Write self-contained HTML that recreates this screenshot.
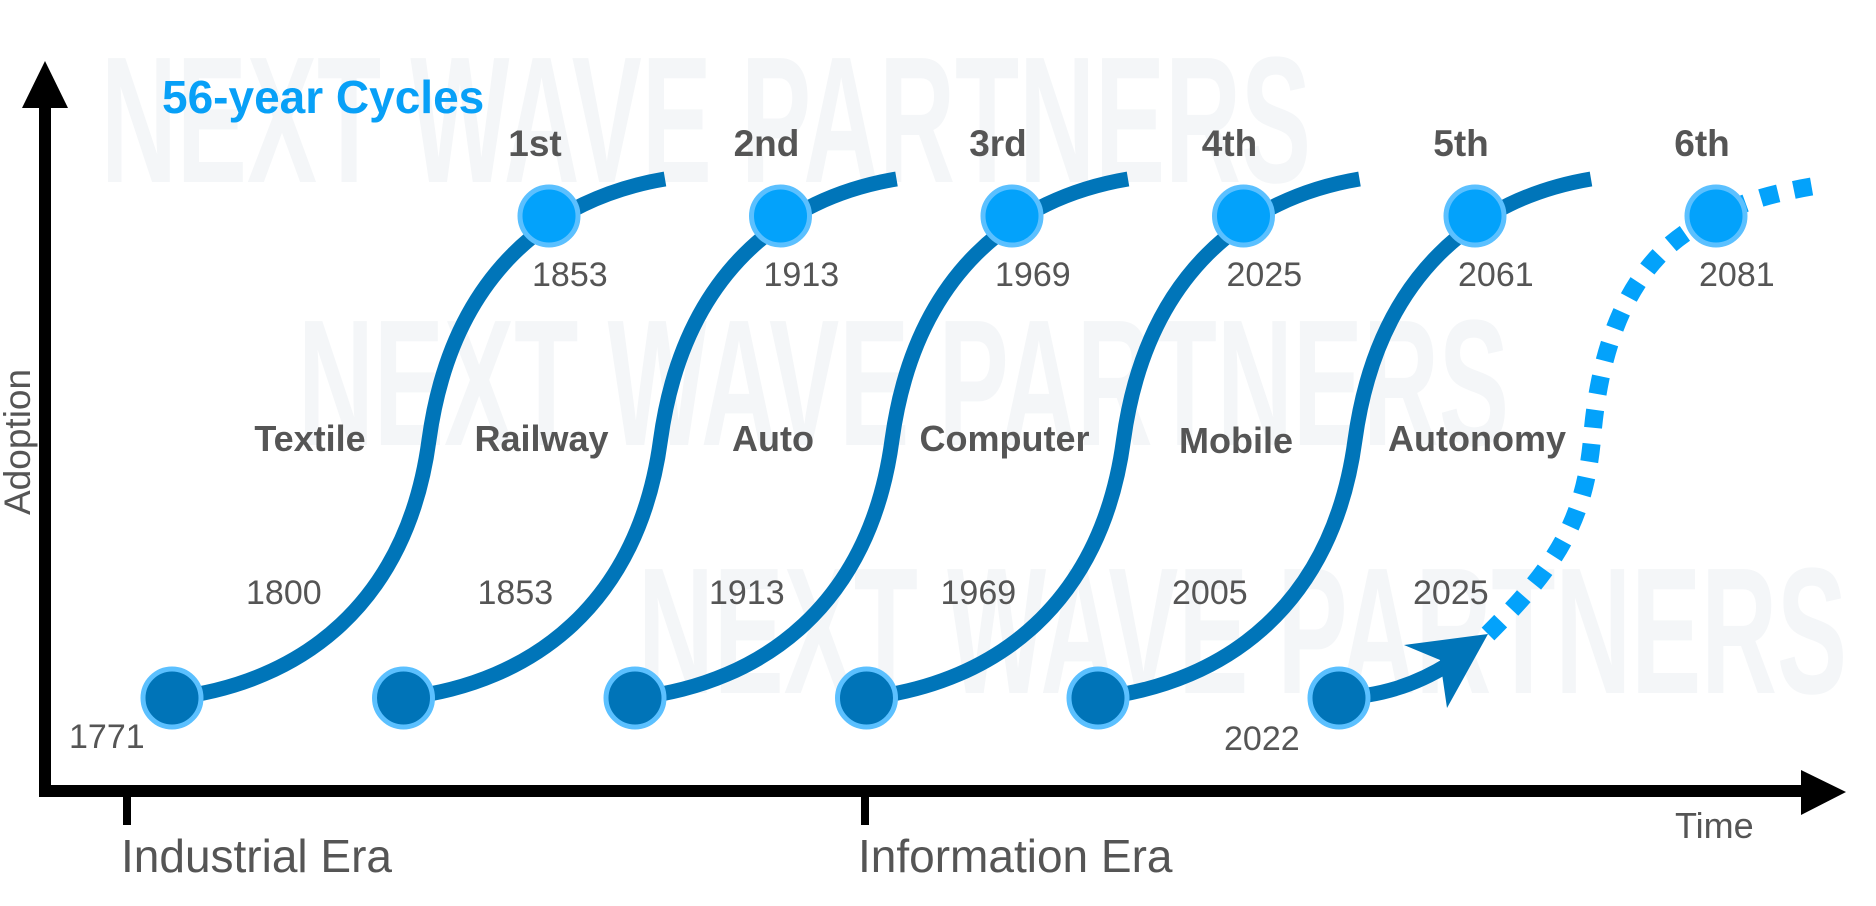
<!DOCTYPE html>
<html><head><meta charset="utf-8"><style>
html,body{margin:0;padding:0;background:#fff;}
svg{display:block;}
</style></head><body>
<svg id="chart" width="1876" height="906" viewBox="0 0 1876 906" xmlns="http://www.w3.org/2000/svg" font-family="'Liberation Sans', sans-serif">
  <g fill="#f4f6f8" font-family="'Liberation Sans Narrow','Liberation Sans',sans-serif" font-size="180" font-weight="bold">
    <text x="101" y="182" textLength="1210" lengthAdjust="spacingAndGlyphs">NEXT WAVE PARTNERS</text>
    <text x="298" y="445" textLength="1211" lengthAdjust="spacingAndGlyphs">NEXT WAVE PARTNERS</text>
    <text x="638" y="693" textLength="1209" lengthAdjust="spacingAndGlyphs">NEXT WAVE PARTNERS</text>
  </g>
  <g>
    <line x1="45" y1="797" x2="45" y2="100" stroke="#000" stroke-width="12"/>
    <polygon points="45,61 22,108 68,108" fill="#000"/>
    <line x1="39" y1="791" x2="1805" y2="791" stroke="#000" stroke-width="12"/>
    <polygon points="1846,792 1801,770 1801,815" fill="#000"/>
    <line x1="127" y1="791" x2="127" y2="825" stroke="#000" stroke-width="8"/>
    <line x1="865" y1="791" x2="865" y2="825" stroke="#000" stroke-width="8"/>
    <text x="1675" y="838" font-size="36" fill="#555">Time</text>
    <text transform="translate(30,515) rotate(-90)" font-size="37" fill="#555">Adoption</text>
    <text x="121" y="872" font-size="46" fill="#555">Industrial Era</text>
    <text x="858" y="872" font-size="46" fill="#555">Information Era</text>
  </g>
  <text x="162" y="113" font-size="46" font-weight="bold" fill="#08a0f7">56-year Cycles</text>
  <g id="curves"></g>
</svg>
<script>
const ordinals = ["1st","2nd","3rd","4th","5th","6th"];
const industries = ["Textile","Railway","Auto","Computer","Mobile","Autonomy"];
const startYears = ["1771","","","","","2022"];
const midYears = ["1800","1853","1913","1969","2005","2025"];
const peakYears = ["1853","1913","1969","2025","2061","2081"];
const projected = [false,false,false,false,false,true];

const NS = "http://www.w3.org/2000/svg";
const g = document.getElementById("curves");
// axis function: cycle index -> x start position
function xScale(i){ return i < 5 ? 172 + i*231.5 : 1339; }
const baseY = 698;
function mk(tag, attrs, parent){
  const e = document.createElementNS(NS, tag);
  for (const k in attrs) e.setAttribute(k, attrs[k]);
  (parent||g).appendChild(e);
  return e;
}
function txt(x,y,s,size,bold,anchor){
  const t = mk("text",{x:x,y:y,"font-size":size,fill:"#555","font-weight":bold?"bold":"normal","text-anchor":anchor||"start"});
  t.textContent = s;
  return t;
}
ordinals.forEach((o,i)=>{
  const sx = xScale(i), sy = baseY;
  const grp = mk("g",{transform:`translate(${sx},${sy})`});
  
  
  if (!projected[i]) {
    const p = mk("path",{d:"M0,0 C130,-15 235,-95 257,-258 C280,-425 380,-500 493,-519",fill:"none",stroke:"#0075b9","stroke-width":15},grp);
    
    
  } else {
    const d = mk("path",{d:"M149,-64 C210,-125 245,-170 253,-259 C262,-370 300,-450 378,-482 C410,-500 450,-508 488,-514",fill:"none",stroke:"#03a2fb","stroke-width":18,"stroke-dasharray":"18 16"},grp);
    
    
    const a = mk("path",{d:"M0,0 C40,-2 75,-12 110,-34",fill:"none",stroke:"#0075b9","stroke-width":15},grp);
    
    
    const h = mk("polygon",{points:"149,-64 65,-53 101,-38 108,10",fill:"#0075b9"},grp);
    
    
  }
  const c0 = mk("circle",{cx:0,cy:0,r:29,fill:"#0074b8",stroke:"#5bc0ff","stroke-width":5},grp);
  
  
  const c1 = mk("circle",{cx:377,cy:-482,r:29,fill:"#03a2fb",stroke:"#5bc0ff","stroke-width":5},grp);
  
  

  const t1 = txt(sx+363, 156, o, 37, true, "middle");
  
  
  const t2 = txt(sx+360, 286, peakYears[i], 34, false);
  
  
  const t3 = txt(sx+74, 604, midYears[i], 34, false);
  
  
  const t4 = txt(sx+138, 451 + (i===4?2:0), industries[i], 36, true, "middle");
  
  
  if (startYears[i]) {
    const t5 = txt(i===0 ? sx-103 : sx-115, i===0 ? 748 : 750, startYears[i], 34, false);
    
    
  }
});
</script>
</body></html>
